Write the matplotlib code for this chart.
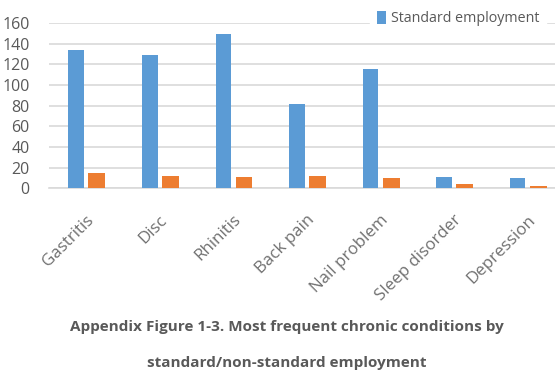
import matplotlib.pyplot as plt
import numpy as np

conditions = ["Gastritis", "Disc", "Rhinitis", "Back pain", "Nail problem",
              "Sleep disorder", "Depression"]
standard = [134, 129, 149, 82, 115, 11, 10]
non_standard = [15, 12, 11, 12, 10, 4.5, 2.5]
yticks = [0, 20, 40, 60, 80, 100, 120, 140, 160]

plt.rcParams['font.family'] = ['Open Sans', 'DejaVu Sans']
grey = '#595959'

fig = plt.figure(figsize=(5.55, 3.79), dpi=100)
ax = fig.add_axes([49 / 555, 1 - 188.3 / 379, 515 / 555, 165.3 / 379])

x = np.arange(len(conditions))
b1 = ax.bar(x - 0.13, standard, width=0.21, color='#5B9BD5', zorder=3,
            label='Standard employment')
ax.bar(x + 0.15, non_standard, width=0.23, color='#ED7D31', zorder=3)

ax.set_xlim(-0.5, len(conditions) - 0.5)
ax.set_ylim(0, 160)
ax.set_yticks(yticks)
ax.yaxis.grid(True, color='#D9D9D9', linewidth=1.2, zorder=0)
for s in ['top', 'right', 'left']:
    ax.spines[s].set_visible(False)
ax.spines['bottom'].set_color('#D9D9D9')
ax.spines['bottom'].set_linewidth(1.2)
ax.tick_params(axis='both', length=0, colors=grey, labelsize=11.5)
ax.tick_params(axis='y', pad=14)
ax.set_xticks(x)
ax.set_xticklabels(conditions, rotation=45, ha='right', rotation_mode='anchor',
                   fontsize=12.2, color='#707070')
ax.tick_params(axis='x', pad=17)

leg = fig.legend(handles=[b1], loc='upper left', bbox_to_anchor=(363 / 555, 1.01),
                 frameon=True, fontsize=10.3, handlelength=0.6, handleheight=1.1,
                 handletextpad=0.35, borderpad=0.5)
leg.get_frame().set_facecolor('white')
leg.get_frame().set_edgecolor('white')
leg.get_frame().set_alpha(1)
for t in leg.get_texts():
    t.set_color(grey)

fig.text(287 / 555, 1 - 327 / 379,
         "Appendix Figure 1-3. Most frequent chronic conditions by",
         ha='center', va='center', fontsize=11, fontweight='bold', color=grey)
fig.text(287 / 555, 1 - 363 / 379, "standard/non-standard employment",
         ha='center', va='center', fontsize=11, fontweight='bold', color=grey)

fig.savefig('out.png', dpi=100)
